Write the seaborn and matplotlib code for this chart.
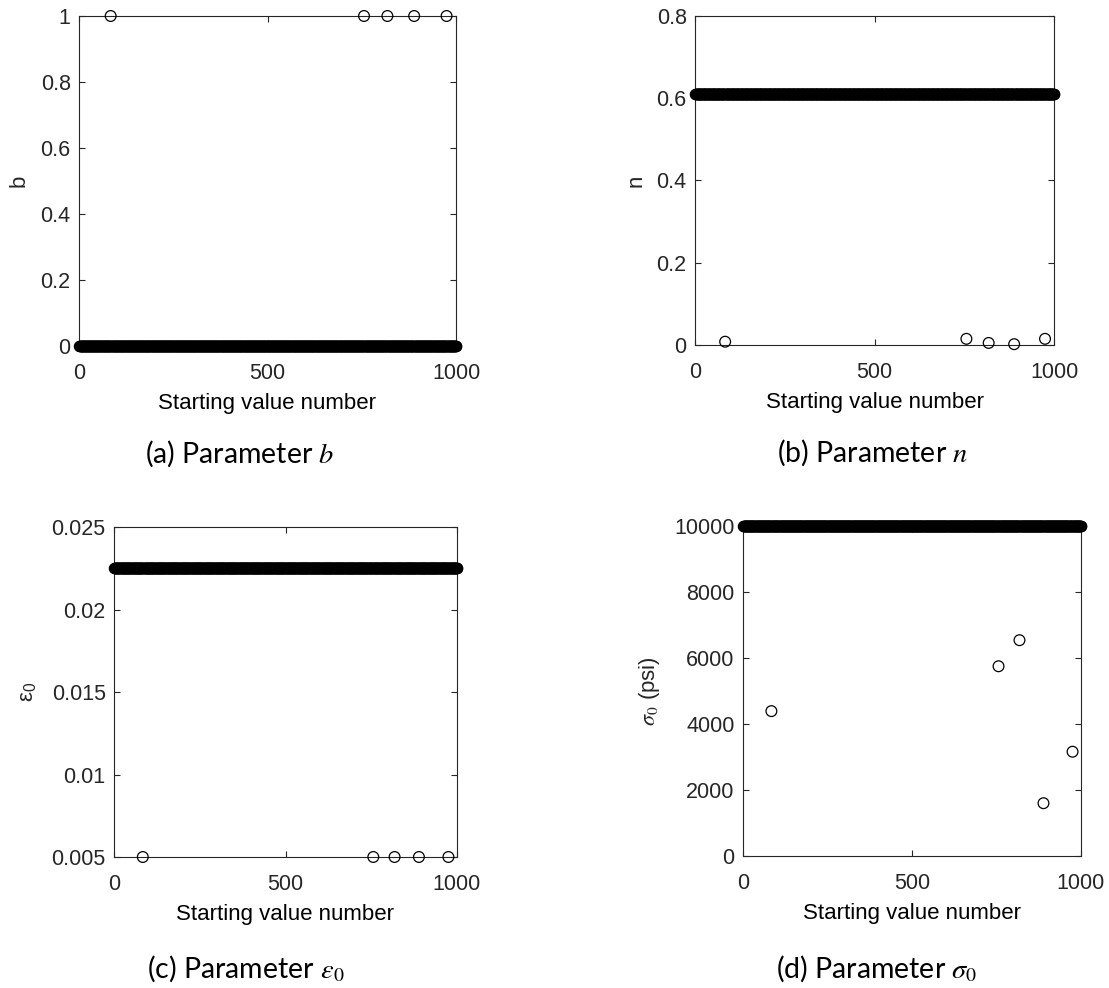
import numpy as np
import pandas as pd
import matplotlib
matplotlib.use("Agg")
import matplotlib.pyplot as plt
import seaborn as sns
from matplotlib.ticker import FuncFormatter

# ---------------- data ----------------
n_starts = 1000
outlier_idx = [84, 756, 818, 889, 975]

b_main = 0.0
b_out = [1.0, 1.0, 1.0, 1.0, 1.0]

n_main = 0.61
n_out = [0.008, 0.015, 0.005, 0.002, 0.015]

eps_main = 0.0225
eps_out = [0.005, 0.005, 0.005, 0.005, 0.005]

sig_main = 10000.0
sig_out = [4390, 5750, 6540, 1600, 3160]

x_ticks = [0, 500, 1000]
b_ticks = [0, 0.2, 0.4, 0.6, 0.8, 1.0]
n_ticks = [0, 0.2, 0.4, 0.6, 0.8]
eps_ticks = [0.005, 0.01, 0.015, 0.02, 0.025]
sig_ticks = [0, 2000, 4000, 6000, 8000, 10000]

captions = [r"(a) Parameter $b$", r"(b) Parameter $n$",
            r"(c) Parameter $\varepsilon_0$", r"(d) Parameter $\sigma_0$"]
ylabels = ["b", "n", r"$\mathregular{ε_0}$", r"$\sigma_0$ (psi)"]

# ---------------- style ----------------
sns.set_theme(style="white")
plt.rcParams["font.family"] = ["Liberation Sans", "DejaVu Sans"]
plt.rcParams["mathtext.fontset"] = "custom"
plt.rcParams["mathtext.rm"] = "Liberation Sans"
plt.rcParams["mathtext.it"] = "Liberation Serif:italic"

fig = plt.figure(figsize=(11.09, 9.88), dpi=100)
W, H = 1109, 988

def ax_at(l, r, t, b):
    return fig.add_axes([l / W, 1 - b / H, (r - l) / W, (b - t) / H])

axes = [ax_at(79, 456, 16, 346), ax_at(695, 1054, 16, 345),
        ax_at(114, 457, 527, 857), ax_at(743, 1081, 526, 856)]

mains = [b_main, n_main, eps_main, sig_main]
outs = [b_out, n_out, eps_out, sig_out]
yticks = [b_ticks, n_ticks, eps_ticks, sig_ticks]
ylims = [(0, 1), (0, 0.8), (0.005, 0.025), (0, 10000)]
label_x = [-0.13, -0.134, -0.22, -0.24]

FS = 15.5
idx = np.arange(1, n_starts + 1)
for i, ax in enumerate(axes):
    mask = ~np.isin(idx, outlier_idx)
    df_main = pd.DataFrame({"x": idx[mask], "y": np.full(mask.sum(), mains[i])})
    df_out = pd.DataFrame({"x": outlier_idx, "y": outs[i]})
    sns.scatterplot(data=df_main, x="x", y="y", ax=ax, s=56, marker="o",
                    color="black", edgecolor="black", linewidth=0.8,
                    clip_on=False, zorder=3)
    sns.scatterplot(data=df_out, x="x", y="y", ax=ax, s=60, marker="o",
                    facecolor="none", edgecolor="black", linewidth=0.9,
                    clip_on=False, zorder=3)
    ax.set_xlim(0, 1000)
    ax.set_ylim(*ylims[i])
    ax.set_xticks(x_ticks)
    ax.set_yticks(yticks[i])
    ax.xaxis.set_major_formatter(FuncFormatter(lambda v, p: "%g" % v))
    ax.yaxis.set_major_formatter(FuncFormatter(lambda v, p: "%g" % v))
    ax.tick_params(direction="in", length=4, width=0.8, colors="#262626",
                   labelsize=FS, top=True, right=True, bottom=True, left=True)
    ax.tick_params(axis="x", pad=12.5)
    ax.tick_params(axis="y", pad=6)
    for sp in ax.spines.values():
        sp.set_visible(True)
        sp.set_color("#262626")
        sp.set_linewidth(0.8)
    ax.set_xlabel("Starting value number", fontsize=16, color="black", labelpad=6)
    if i == 3:
        ax.set_ylabel(ylabels[i], fontsize=16, color="#262626", math_fontfamily="stix")
    else:
        ax.set_ylabel(ylabels[i], fontsize=16, color="#262626")
    ax.yaxis.set_label_coords(label_x[i], 0.5)
    ax.grid(False)

cap_pos = [(240, 454), (873, 453), (246, 969), (877, 969)]
for (cx, cy), txt in zip(cap_pos, captions):
    fig.text(cx / W, 1 - cy / H, txt, ha="center", va="center", fontsize=20.5,
             family=["Lato", "DejaVu Sans"], math_fontfamily="stix", color="black")

fig.savefig("out.png", dpi=100)
